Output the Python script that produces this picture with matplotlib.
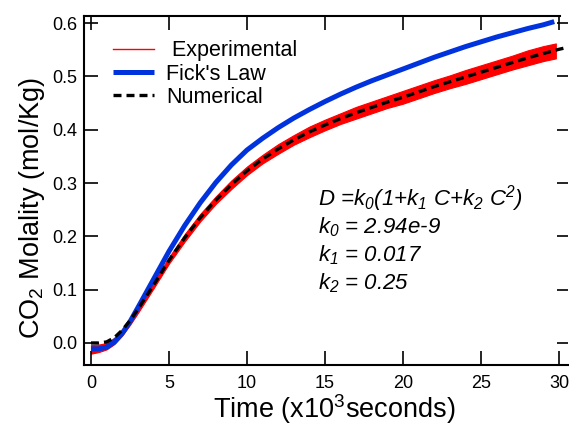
import numpy as np
import matplotlib
matplotlib.use('Agg')
import matplotlib.pyplot as plt

plt.rcParams.update({'font.size': 13,
                     'font.family': 'Liberation Sans',
                     'mathtext.fontset': 'custom',
                     'mathtext.rm': 'Liberation Sans',
                     'mathtext.it': 'Liberation Sans:italic',
                     'mathtext.sf': 'Liberation Sans:italic'})

# time in 10^3 s, molality in mol/kg
t_fick = [0, 0.5, 1, 1.5, 2, 2.5, 3, 4, 5, 6, 7, 8, 9, 10, 11, 12, 13, 14, 15,
          16, 17, 18, 19, 20, 21, 22, 23, 24, 25, 26, 27, 28, 29, 29.7]
c_fick = [-0.011, -0.011, -0.008, 0.002, 0.018, 0.040, 0.066, 0.119, 0.172,
          0.220, 0.263, 0.301, 0.334, 0.362, 0.384, 0.404, 0.422, 0.438, 0.453,
          0.467, 0.480, 0.492, 0.503, 0.514, 0.525, 0.536, 0.546, 0.556, 0.565,
          0.574, 0.582, 0.590, 0.597, 0.603]

t_num = [0, 0.5, 1, 1.5, 2, 2.5, 3, 4, 5, 6, 7, 8, 9, 10, 11, 12, 13, 14, 15,
         16, 17, 18, 19, 20, 21, 22, 23, 24, 25, 26, 27, 28, 29, 30, 30.3]
c_num = [0.0, 0.0, 0.002, 0.010, 0.024, 0.042, 0.063, 0.108, 0.155, 0.197,
         0.235, 0.268, 0.297, 0.323, 0.345, 0.364, 0.381, 0.396, 0.409, 0.421,
         0.432, 0.442, 0.452, 0.461, 0.471, 0.481, 0.490, 0.499, 0.508, 0.517,
         0.526, 0.535, 0.543, 0.551, 0.553]

# experimental: centre of the noisy trace and its half spread
t_exp = [0, 0.5, 1, 1.5, 2, 2.5, 3, 4, 5, 6, 7, 8, 9, 10, 11, 12, 13, 14, 15,
         16, 17, 18, 19, 20, 21, 22, 23, 24, 25, 26, 27, 28, 29, 29.8]
c_exp = [-0.012, -0.010, -0.006, 0.004, 0.020, 0.040, 0.062, 0.108, 0.155,
         0.197, 0.235, 0.268, 0.297, 0.323, 0.345, 0.364, 0.381, 0.396, 0.409,
         0.421, 0.432, 0.442, 0.452, 0.461, 0.471, 0.481, 0.490, 0.499, 0.508,
         0.517, 0.526, 0.535, 0.543, 0.548]
spread = [0.008, 0.007, 0.006, 0.006, 0.006, 0.006, 0.006, 0.006, 0.006,
          0.007, 0.007, 0.007, 0.008, 0.008, 0.008, 0.009, 0.009, 0.010, 0.010,
          0.010, 0.011, 0.011, 0.011, 0.012, 0.012, 0.012, 0.012, 0.013, 0.013,
          0.013, 0.013, 0.014, 0.014, 0.014]

fig = plt.figure(figsize=(5.69, 4.29), dpi=100)
ax = fig.add_axes([0.1476, 0.1492, 0.8506, 0.8135])

c_exp = np.array(c_exp)
spread = np.array(spread)
ax.fill_between(t_exp, c_exp - spread, c_exp + spread, color='#ff0000', lw=0.8)
ax.plot([], [], color='#ff0000', lw=1, label=' Experimental')
ax.plot(t_fick, c_fick, color='#0033dd', lw=3.6, solid_capstyle='butt', label="Fick's Law")
ax.plot(t_num, c_num, color='k', lw=2.4, dashes=(2.4, 1.5), label='Numerical')

ax.set_xlim(-0.45, 30.58)
ax.set_ylim(-0.0413, 0.6135)
ax.set_xticks(np.arange(0, 31, 5))
ax.set_yticks(np.arange(0, 0.61, 0.1))
ax.yaxis.set_major_formatter(matplotlib.ticker.FormatStrFormatter('%.1f'))

for s in ['left', 'bottom', 'top']:
    ax.spines[s].set_linewidth(1.5)
ax.spines['right'].set_visible(False)
ax.spines['top'].set_bounds(-0.45, 30.05)
ax.tick_params(axis='both', direction='in', length=10, width=1.2, labelsize=13)
ax.tick_params(axis='x', top=True, pad=7)
ax.tick_params(axis='y', right=True, pad=5)
for tl in ax.yaxis.get_major_ticks():
    tl.tick2line.set_markersize(8)

ax.set_xlabel(r'Time (x10$^3$seconds)', fontsize=19.5)
ax.set_ylabel(r'CO$_2$ Molality (mol/Kg)', fontsize=19.5)
ax.xaxis.set_label_coords(0.517, -0.077)
ax.yaxis.set_label_coords(-0.076, 0.45)

ax.legend(loc='upper left', bbox_to_anchor=(0.06, 0.93), frameon=False,
          fontsize=15.5, borderpad=0, borderaxespad=0, labelspacing=0.1,
          handlelength=1.9, handletextpad=0.55)

txt = [r'D =k$_\mathsf{0}$(1+k$_\mathsf{1}$ C+k$_\mathsf{2}$ C$^\mathsf{2}$)',
       r'k$_\mathsf{0}$ = 2.94e-9',
       r'k$_\mathsf{1}$ = 0.017',
       r'k$_\mathsf{2}$ = 0.25']
for i, s in enumerate(txt):
    ax.text(0.483, 0.458 - i * 0.08, s, transform=ax.transAxes, fontsize=16,
            style='italic', va='baseline')

fig.savefig('out.png', dpi=100)
